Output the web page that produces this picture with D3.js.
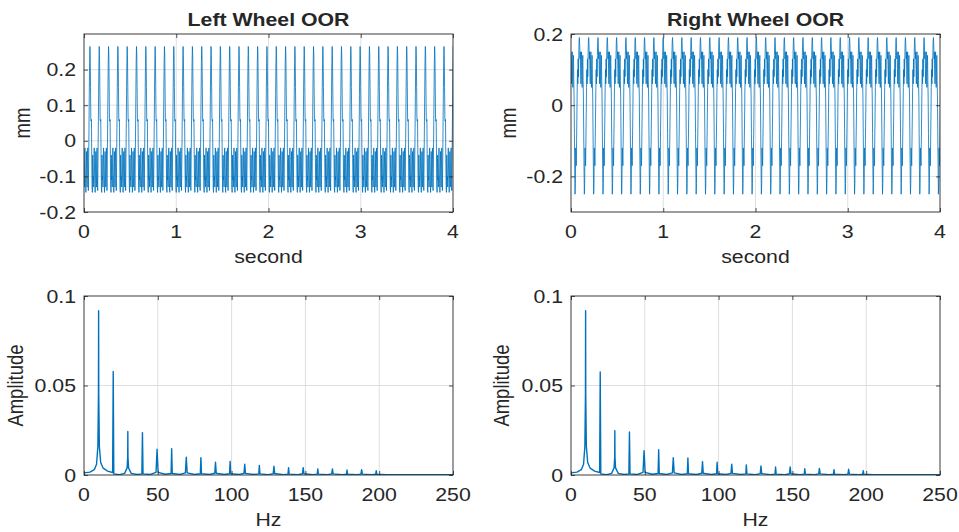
<!DOCTYPE html>
<html>
<head>
<meta charset="utf-8">
<script src="https://cdn.jsdelivr.net/npm/d3@7"></script>
<style>
  html, body { margin: 0; padding: 0; background: #fff; }
  svg { display: block; }
  text { font-family: "Liberation Sans", Arial, sans-serif; fill: #262626; }
</style>
</head>
<body>
<svg id="chart" width="959" height="532"></svg>
<script>
/* ── data: one cycle of each wheel's out-of-round trace (mm) ── */
const cyclePeriod = 0.101;          // s, ~9.9 Hz rotation
const cycleCount  = 40;
const leftCycle  = [-0.10, -0.13, -0.06, -0.02, -0.09, -0.12, -0.145, -0.08, -0.03, -0.10,
                    -0.13, -0.06, -0.02, -0.09, -0.14, -0.06, 0.03, 0.13, 0.22, 0.265,
                    0.24, 0.15, 0.06, 0.055, 0.06, -0.05, -0.13, -0.145, -0.04, -0.11];
const rightCycle = [0.15, 0.10, 0.06, 0.13, 0.15, 0.08, 0.05, 0.12, 0.14, 0.07,
                    0.02, -0.08, -0.18, -0.25, -0.22, -0.12, -0.14, -0.17, -0.10, -0.03,
                    0.05, 0.10, 0.06, 0.13, 0.08, 0.14, 0.18, 0.19, 0.17, 0.13];

/* ── data: amplitude spectra (shared Hz grid) ── */
const specHz = [0, 4, 7, 8.5, 9.4, 9.8, 9.9, 10.0, 10.4, 11.3, 13, 16, 19.4, 19.8, 20.2, 24, 27.5,
  29.2, 29.6, 29.7, 29.8, 30.2, 32, 36, 39.2, 39.6, 40.0, 45, 48.8, 49.5, 50.2, 55, 59.0, 59.4, 59.8,
  65, 68.7, 69.3, 69.9, 75, 78.8, 79.2, 79.6, 85, 88.6, 89.1, 89.6, 95, 98.6, 99.0, 99.4, 105,
  108.4, 108.9, 109.4, 115, 118.4, 118.8, 119.2, 125, 128.2, 128.7, 129.2, 135, 138.2, 138.6, 139.0,
  145, 148.0, 148.5, 149.0, 155, 158.0, 158.4, 158.8, 165, 167.8, 168.3, 168.8, 175, 177.8, 178.2,
  178.6, 185, 187.6, 188.1, 188.6, 195, 197.6, 198.0, 198.4, 205, 250];
const leftAmp = [0.0012, 0.0016, 0.003, 0.006, 0.016, 0.045, 0.0918, 0.045, 0.016, 0.007, 0.0038,
  0.0022, 0.0014, 0.0578, 0.0006, 0.0002, 0.0009, 0.004, 0.010, 0.0243, 0.010, 0.004, 0.0009, 0.0003,
  0.0006, 0.0237, 0.0006, 0.0003, 0.0015, 0.0144, 0.0015, 0.0004, 0.0008, 0.0147, 0.0008, 0.0003,
  0.0012, 0.0099, 0.0012, 0.0003, 0.0007, 0.0097, 0.0007, 0.0003, 0.001, 0.0071, 0.001, 0.0003,
  0.0007, 0.0076, 0.0007, 0.0003, 0.0009, 0.006, 0.0009, 0.0003, 0.0006, 0.0054, 0.0006, 0.0002,
  0.0008, 0.0049, 0.0008, 0.0002, 0.0005, 0.0041, 0.0005, 0.0002, 0.0007, 0.0041, 0.0007, 0.0002,
  0.0005, 0.0034, 0.0005, 0.0002, 0.0006, 0.0034, 0.0006, 0.0002, 0.0004, 0.0028, 0.0004, 0.0002,
  0.0005, 0.003, 0.0005, 0.0002, 0.0004, 0.0024, 0.0004, 0.0001, 0.0001];
const rightAmp = [0.0012, 0.0016, 0.003, 0.006, 0.016, 0.045, 0.0918, 0.045, 0.016, 0.007, 0.0038,
  0.0022, 0.0014, 0.0576, 0.0006, 0.0002, 0.0009, 0.004, 0.010, 0.0248, 0.010, 0.004, 0.0009, 0.0003,
  0.0006, 0.0240, 0.0006, 0.0003, 0.0015, 0.0136, 0.0015, 0.0004, 0.0008, 0.0142, 0.0008, 0.0003,
  0.0012, 0.0097, 0.0012, 0.0003, 0.0007, 0.0095, 0.0007, 0.0003, 0.001, 0.0075, 0.001, 0.0003,
  0.0007, 0.0071, 0.0007, 0.0003, 0.0009, 0.006, 0.0009, 0.0003, 0.0006, 0.0056, 0.0006, 0.0002,
  0.0008, 0.0050, 0.0008, 0.0002, 0.0005, 0.0045, 0.0005, 0.0002, 0.0007, 0.0045, 0.0007, 0.0002,
  0.0005, 0.0035, 0.0005, 0.0002, 0.0006, 0.0037, 0.0006, 0.0002, 0.0004, 0.0030, 0.0004, 0.0002,
  0.0005, 0.0032, 0.0005, 0.0002, 0.0004, 0.0024, 0.0004, 0.0001, 0.0001];

/* ── tick labels ── */
const timeTicks   = [0, 1, 2, 3, 4];
const hzTicks     = [0, 50, 100, 150, 200, 250];
const leftMmTicks = [-0.2, -0.1, 0, 0.1, 0.2];
const rightMmTicks = [-0.2, 0, 0.2];
const ampTicks    = [0, 0.05, 0.1];

const SX = 1.15;                     // reference text is stretched horizontally
const FS = 18.5;
const BLUE = "#0072BD", INK = "#262626", GRID = "#dfdfdf";
const svg = d3.select("#chart");

function tile(cycle) {
  const n = cycle.length, pts = [];
  for (let k = 0; k < cycleCount; k++)
    cycle.forEach((v, j) => pts.push([k * cyclePeriod + j * cyclePeriod / n, v]));
  return pts;
}

function label(g, x, y, str, o = {}) {
  const t = g.append("text")
    .attr("transform", `translate(${x},${y}) scale(${SX},1)` + (o.rot ? " rotate(-90)" : ""))
    .attr("text-anchor", o.anchor || "middle")
    .attr("font-size", o.size || FS)
    .text(str);
  if (o.bold) t.attr("font-weight", "bold");
  return t;
}

let clipN = 0;
function panel(box, xDom, yDom, xTicks, yTicks, pts, o) {
  const x = d3.scaleLinear().domain(xDom).range([box.x0, box.x1]);
  const y = d3.scaleLinear().domain(yDom).range([box.y1, box.y0]);
  const g = svg.append("g");
  const id = "clip" + (clipN++);
  g.append("clipPath").attr("id", id).append("rect")
    .attr("x", box.x0).attr("y", box.y0).attr("width", box.x1 - box.x0).attr("height", box.y1 - box.y0);

  // grid
  g.append("g").selectAll("line").data(xTicks.filter(v => v !== xDom[0] && v !== xDom[1])).join("line")
    .attr("x1", d => x(d)).attr("x2", d => x(d)).attr("y1", box.y0).attr("y2", box.y1)
    .attr("stroke", GRID).attr("stroke-width", 1);
  g.append("g").selectAll("line").data(yTicks.filter(v => v !== yDom[0] && v !== yDom[1])).join("line")
    .attr("y1", d => y(d)).attr("y2", d => y(d)).attr("x1", box.x0).attr("x2", box.x1)
    .attr("stroke", GRID).attr("stroke-width", 1);

  // data
  g.append("path").datum(pts)
    .attr("clip-path", `url(#${id})`)
    .attr("fill", "none").attr("stroke", BLUE).attr("stroke-width", o.lw)
    .attr("stroke-opacity", o.op || 1)
    .attr("stroke-linejoin", "round")
    .attr("d", d3.line().x(d => x(d[0])).y(d => y(d[1])));

  // axes (ticks inside, mirrored on top/right)
  const ax = [
    [d3.axisBottom(x).tickValues(xTicks).tickSize(-4).tickFormat(""), `translate(0,${box.y1})`],
    [d3.axisTop(x).tickValues(xTicks).tickSize(-4).tickFormat(""), `translate(0,${box.y0})`],
    [d3.axisLeft(y).tickValues(yTicks).tickSize(-4).tickFormat(""), `translate(${box.x0},0)`],
    [d3.axisRight(y).tickValues(yTicks).tickSize(-4).tickFormat(""), `translate(${box.x1},0)`]
  ];
  ax.forEach(([a, tr]) => {
    const s = g.append("g").attr("transform", tr).call(a);
    s.select(".domain").remove();
    s.selectAll("line").attr("stroke", INK).attr("stroke-width", 0.8);
  });
  g.append("rect").attr("x", box.x0).attr("y", box.y0)
    .attr("width", box.x1 - box.x0).attr("height", box.y1 - box.y0)
    .attr("fill", "none").attr("stroke", INK).attr("stroke-width", 0.9);

  // tick labels
  xTicks.forEach(v => label(g, x(v), box.y1 + 26, String(v)));
  yTicks.forEach(v => label(g, box.x0 - 8, y(v) + 6.5, String(v), { anchor: "end" }));

  // axis titles
  label(g, (box.x0 + box.x1) / 2, box.y1 + 51, o.xLabel);
  label(g, o.yLabelX, (box.y0 + box.y1) / 2, o.yLabel, { rot: true });
  if (o.title) label(g, (box.x0 + box.x1) / 2, 26, o.title, { bold: true, size: 18.5 });
}

const TL = { x0: 84, x1: 453, y0: 34, y1: 212 };
const TR = { x0: 571, x1: 940, y0: 34, y1: 212 };
const BL = { x0: 84, x1: 453, y0: 296, y1: 475 };
const BR = { x0: 571, x1: 940, y0: 296, y1: 475 };

panel(TL, [0, 4], [-0.2, 0.3], timeTicks, leftMmTicks, tile(leftCycle),
  { lw: 1, op: 0.8, xLabel: "second", yLabel: "mm", yLabelX: 30, title: "Left Wheel OOR" });
panel(TR, [0, 4], [-0.3, 0.2], timeTicks, rightMmTicks, tile(rightCycle),
  { lw: 1, op: 0.8, xLabel: "second", yLabel: "mm", yLabelX: 516, title: "Right Wheel OOR" });
panel(BL, [0, 250], [0, 0.1], hzTicks, ampTicks, specHz.map((f, i) => [f, leftAmp[i]]),
  { lw: 1.4, xLabel: "Hz", yLabel: "Amplitude", yLabelX: 23 });
panel(BR, [0, 250], [0, 0.1], hzTicks, ampTicks, specHz.map((f, i) => [f, rightAmp[i]]),
  { lw: 1.4, xLabel: "Hz", yLabel: "Amplitude", yLabelX: 509 });
</script>
</body>
</html>
